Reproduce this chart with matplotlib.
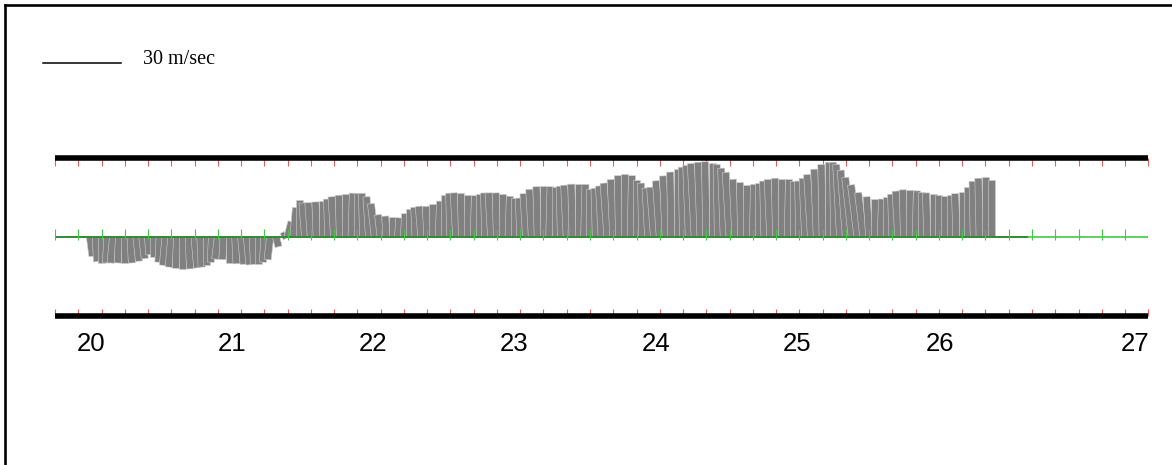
import numpy as np
import matplotlib.pyplot as plt
from matplotlib.lines import Line2D

# ================================ DATA ================================
# hourly wind components (m/s), first stick at day 20.00
START_DAY = 20.0
v_wind = [
    -7.6, -9.7, -10.1, -10.2, -10.2, -10.2, -10.2, -10.2,
    -9.5, -8.5, -7.0, -8.0, -9.9, -11.1, -11.8, -12.3,
    -12.5, -12.5, -12.1, -11.8, -11.1, -9.9, -8.7, -8.9,
    -10.1, -10.5, -10.7, -10.9, -10.7, -10.5, -9.9, -8.9,
    -3.9, 0.8, 5.8, 11.3, 14.1, 13.1, 13.2, 13.5,
    13.7, 14.6, 15.5, 16.1, 16.5, 16.9, 17.0, 16.8,
    15.5, 12.8, 8.5, 8.0, 7.6, 7.3, 8.9, 10.6,
    11.4, 11.8, 11.8, 12.6, 13.8, 16.1, 16.9, 17.0,
    16.8, 16.0, 15.9, 16.5, 17.0, 17.0, 17.0, 16.6,
    15.7, 15.0, 15.0, 16.7, 18.4, 19.4, 19.7, 19.4,
    19.4, 19.6, 20.0, 20.4, 20.5, 20.3, 18.4, 18.8,
    19.7, 20.8, 22.2, 23.7, 24.3, 23.7, 22.1, 20.8,
    18.9, 19.2, 21.7, 23.6, 25.1, 26.2, 27.0, 27.7,
    28.4, 28.9, 29.1, 28.8, 28.0, 26.6, 25.0, 22.3,
    21.0, 20.0, 20.3, 21.0, 21.6, 22.2, 22.7, 22.4,
    22.2, 21.8, 21.6, 22.7, 24.1, 26.2, 28.0, 29.0,
    28.9, 28.0, 25.8, 23.0, 20.1, 17.1, 15.5, 14.7,
    14.6, 15.5, 16.5, 17.7, 18.2, 18.3, 17.8, 17.3,
    17.0, 16.6, 16.3, 15.9, 16.1, 16.7, 17.5, 19.2,
    21.5, 22.7, 23.3, 22.1,
]
u_wind = [
    1.0, 0.5, 0.0, -0.5, -1.0, -0.5, 0.0, 0.5,
    1.0, 1.0, 0.5, 0.0, -0.5, -1.0, -1.0, -0.5,
    0.0, 0.5, 1.0, 0.5, 0.0, -0.5, -1.0, -0.5,
    0.0, 0.5, 1.0, 1.0, 0.5, 0.0, -0.5, -1.0,
    1.0, 1.5, 1.5, 1.0, 0.0, -1.0, -1.0, -0.5,
    0.0, -0.5, -1.0, -0.5, 0.0, 0.5, 0.0, -0.5,
    -1.0, -1.5, -1.0, -0.5, 0.0, 0.5, 0.5, 0.0,
    -0.5, -1.0, -0.5, 0.0, 0.5, 0.0, -0.5, -1.0,
    -0.5, 0.0, 0.5, 0.0, -0.5, -1.0, -0.5, 0.0,
    0.5, 0.0, -0.5, -1.0, -1.0, -0.5, 0.0, 0.5,
    0.0, -0.5, -1.0, -0.5, 0.0, 0.5, 0.0, -0.5,
    -1.0, -1.5, -1.0, -0.5, 0.0, 0.5, 0.0, -0.5,
    -1.0, -1.5, -1.5, -1.0, -0.5, 0.0, -0.5, -1.0,
    -1.5, -1.0, -0.5, 0.0, -0.5, -1.0, -1.5, -1.0,
    -0.5, 0.0, 0.5, 0.0, -0.5, -1.0, -0.5, 0.0,
    0.5, 0.0, -0.5, -1.0, -1.5, -1.0, -0.5, 0.0,
    -0.5, -1.5, -2.0, -2.5, -2.5, -2.0, -1.0, 0.0,
    0.5, 0.0, -0.5, -1.0, -0.5, 0.0, 0.5, 0.0,
    -0.5, 0.0, 0.0, 0.0, 0.0, -0.5, 0.0, 0.0,
    -0.5, -0.5, 0.0, 0.0,
]

# axis range (days) and labels
X_MIN = 19.75
N_TICKS = 48                      # 4-hourly ticks
day_labels = ['20', '21', '22', '23', '24', '25', '26', '27']
label_pos = [20.01, 21.02, 22.03, 23.04, 24.06, 25.07, 26.09, 27.49]
BASE_DARK_END = 26.72
REF_SPEED = 30
Y_LIM = 30.6

# ================================ PLOT ================================
W, H = 1172, 465
fig = plt.figure(figsize=(W / 100, H / 100), dpi=100)
ax = fig.add_axes([55 / W, (H - 315.5) / H, 1093.3 / W, 157.6 / H])

t = START_DAY + np.arange(len(v_wind)) / 24.0
tick_pos = X_MIN + np.arange(N_TICKS) / 6.0

# stick plot: one headless arrow per hour
ax.quiver(t, np.zeros(len(t)), u_wind, v_wind, angles='uv', scale_units='y', scale=1,
          width=0.0065, headwidth=0, headlength=0, headaxislength=0, minlength=0,
          pivot='tail', color='#808080', edgecolor='#d0d0d0', linewidth=0.4, zorder=2)

# baseline with green ticks
ax.axhline(0, color='#44c844', lw=1.2, zorder=3)
ax.hlines(0, X_MIN, BASE_DARK_END, color='#2f7f2f', lw=1.2, zorder=3)
ax.vlines(tick_pos, -1.2, 3.1, color='#44c844', lw=0.8, zorder=3)

ax.set_xlim(X_MIN, X_MIN + (N_TICKS - 1) / 6.0)
ax.set_ylim(-Y_LIM, Y_LIM)
ax.set_yticks([])

for side in ['left', 'right']:
    ax.spines[side].set_visible(False)
for side in ['top', 'bottom']:
    ax.spines[side].set_linewidth(4.0)
    ax.spines[side].set_capstyle('butt')
    ax.spines[side].set_zorder(4)

ax.set_xticks(tick_pos, minor=True)
ax.tick_params(which='minor', direction='in', top=True, bottom=True,
               length=5.4, width=0.8, color='#e06060')
ax.set_xticks(label_pos)
ax.set_xticklabels(day_labels, family='Liberation Sans', fontsize=18.5)
ax.tick_params(which='major', length=0, pad=12)

# reference stick (30 m/sec)
p0 = ax.transData.transform((0, 0))
p1 = ax.transData.transform((0, REF_SPEED))
ref_len = (p1[1] - p0[1]) / W
fig.add_artist(Line2D([43.3 / W, 43.3 / W + ref_len], [(H - 63) / H] * 2,
                      color='black', lw=1.1))
fig.text(143.3 / W, (H - 60) / H, '30 m/sec', family='Liberation Serif',
         fontsize=14.5, va='center', ha='left')

# frame (top and left edge)
fig.add_artist(Line2D([5.3 / W, 5.3 / W], [0, 1 - 5.3 / H], color='black', lw=1.9))
fig.add_artist(Line2D([5.3 / W, 1], [1 - 5.3 / H] * 2, color='black', lw=1.9))

fig.savefig('out.png', dpi=100)
